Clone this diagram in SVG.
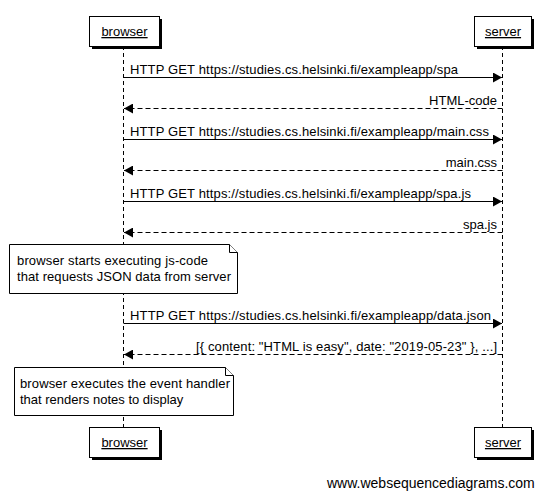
<svg xmlns="http://www.w3.org/2000/svg" width="546" height="496" viewBox="0 0 546 496">
<defs>
<style>
text{font-family:"Liberation Sans",Arial,sans-serif;font-size:13px;fill:#000}
.box{fill:#fff;stroke:#000;stroke-width:1}
.shadow{fill:#000}
.life{stroke:#000;stroke-width:1;stroke-dasharray:4,3;fill:none}
.msg{stroke:#000;stroke-width:1;fill:none}
.ret{stroke:#000;stroke-width:1;fill:none;stroke-dasharray:5,3}
.note{fill:#fff;stroke:#000;stroke-width:1}
.pt{text-decoration:underline;text-anchor:middle}
.end{text-anchor:end}
</style>
<marker id="ah" markerWidth="10" markerHeight="10" refX="9" refY="5" orient="auto" markerUnits="userSpaceOnUse">
<path d="M0,0 L9,5 L0,10 Z" fill="#000"/>
</marker>
</defs>
<rect width="546" height="496" fill="#fff"/>
<g id="connectors">
<line class="life" x1="123.5" y1="46" x2="123.5" y2="427"/>
<line class="life" x1="502.5" y1="46" x2="502.5" y2="427"/>
<line class="msg" x1="123.5" y1="77.5" x2="502" y2="77.5" marker-end="url(#ah)"/>
<text x="130" y="74" textLength="328" lengthAdjust="spacing">HTTP GET https://studies.cs.helsinki.fi/exampleapp/spa</text>
<line class="ret" x1="502.5" y1="108.5" x2="124" y2="108.5" marker-end="url(#ah)"/>
<text class="end" x="497" y="105">HTML-code</text>
<line class="msg" x1="123.5" y1="139.5" x2="502" y2="139.5" marker-end="url(#ah)"/>
<text x="130" y="136" textLength="359" lengthAdjust="spacing">HTTP GET https://studies.cs.helsinki.fi/exampleapp/main.css</text>
<line class="ret" x1="502.5" y1="170.5" x2="124" y2="170.5" marker-end="url(#ah)"/>
<text class="end" x="497" y="167">main.css</text>
<line class="msg" x1="123.5" y1="201.5" x2="502" y2="201.5" marker-end="url(#ah)"/>
<text x="130" y="198" textLength="341" lengthAdjust="spacing">HTTP GET https://studies.cs.helsinki.fi/exampleapp/spa.js</text>
<line class="ret" x1="502.5" y1="232.5" x2="124" y2="232.5" marker-end="url(#ah)"/>
<text class="end" x="497" y="229">spa.js</text>
<line class="msg" x1="123.5" y1="323.5" x2="502" y2="323.5" marker-end="url(#ah)"/>
<text x="130" y="320" textLength="361" lengthAdjust="spacing">HTTP GET https://studies.cs.helsinki.fi/exampleapp/data.json</text>
<line class="ret" x1="502.5" y1="354.5" x2="124" y2="354.5" marker-end="url(#ah)"/>
<text x="196" y="351" textLength="301" lengthAdjust="spacing">[{ content: "HTML is easy", date: "2019-05-23" }, ...]</text>
</g>
<g id="browser-top">
<rect class="shadow" x="92" y="19" width="70" height="30"/>
<rect class="box" x="89.5" y="16.5" width="70" height="30"/>
<text class="pt" x="124.5" y="36">browser</text>
</g>
<g id="server-top">
<rect class="shadow" x="477" y="19" width="57" height="30"/>
<rect class="box" x="474.5" y="16.5" width="57" height="30"/>
<text class="pt" x="503" y="36">server</text>
</g>
<g id="note1">
<path class="note" d="M9.5,244.5 H229.5 L237.5,252.5 V293.5 H9.5 Z"/>
<path class="note" d="M229.5,244.5 V252.5 H237.5"/>
<text x="17" y="265" textLength="191" lengthAdjust="spacing">browser starts executing js-code</text>
<text x="17" y="281" textLength="214" lengthAdjust="spacing">that requests JSON data from server</text>
</g>
<g id="note2">
<path class="note" d="M14.5,367.5 H225.5 L233.5,375.5 V415.5 H14.5 Z"/>
<path class="note" d="M225.5,367.5 V375.5 H233.5"/>
<text x="20" y="388" textLength="210" lengthAdjust="spacing">browser executes the event handler</text>
<text x="20" y="404">that renders notes to display</text>
</g>
<g id="browser-bottom">
<rect class="shadow" x="92" y="430" width="70" height="30"/>
<rect class="box" x="89.5" y="427.5" width="70" height="30"/>
<text class="pt" x="124.5" y="447">browser</text>
</g>
<g id="server-bottom">
<rect class="shadow" x="477" y="430" width="57" height="30"/>
<rect class="box" x="474.5" y="427.5" width="57" height="30"/>
<text class="pt" x="503" y="447">server</text>
</g>
<text x="327" y="488" style="font-size:14px">www.websequencediagrams.com</text>
</svg>
